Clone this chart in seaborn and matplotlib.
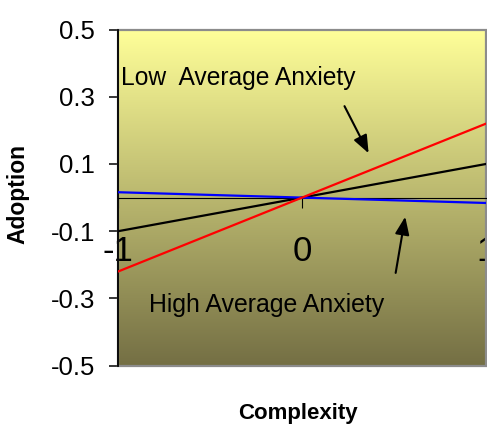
import numpy as np
import pandas as pd
import matplotlib
matplotlib.use("Agg")
import matplotlib.pyplot as plt
import seaborn as sns
from matplotlib.patches import Rectangle
from matplotlib.colors import LinearSegmentedColormap

# Simple-slope lines of Adoption on Complexity at three anxiety levels
complexity = [-1, 0, 1]
low_anxiety = [-0.22, 0.0, 0.22]
mean_anxiety = [-0.10, 0.0, 0.10]
high_anxiety = [0.016, 0.0, -0.016]

x_ticks = [-1, 0, 1]
x_tick_labels = ["-1", "0", "1"]
y_ticks = [0.5, 0.3, 0.1, -0.1, -0.3, -0.5]
y_tick_labels = ["0.5", "0.3", "0.1", "-0.1", "-0.3", "-0.5"]

groups = ["Low Average Anxiety", "Average Anxiety", "High Average Anxiety"]
colors = {"Low Average Anxiety": "#FF0000",
          "Average Anxiety": "#000000",
          "High Average Anxiety": "#0000FF"}

df = pd.DataFrame({
    "Complexity": complexity * 3,
    "Adoption": low_anxiety + mean_anxiety + high_anxiety,
    "group": [g for g in groups for _ in complexity],
})

sns.set_theme(style="ticks")
plt.rcParams["font.family"] = ["Liberation Sans", "DejaVu Sans"]
plt.rcParams["text.color"] = "black"
plt.rcParams["axes.labelcolor"] = "black"
plt.rcParams["xtick.color"] = "black"
plt.rcParams["ytick.color"] = "black"

W, H = 487, 424
fig = plt.figure(figsize=(W / 100, H / 100), dpi=100)
ax = fig.add_axes([118 / W, (H - 365.7) / H, 368 / W, 336.2 / H])

# vertical yellow-to-olive gradient fill of the plot area
cmap = LinearSegmentedColormap.from_list(
    "fill", [(255 / 255, 255 / 255, 153 / 255), (116 / 255, 111 / 255, 68 / 255)])
ax.imshow(np.linspace(0, 1, 256).reshape(-1, 1), extent=[-1, 1, -0.5, 0.5],
          aspect="auto", cmap=cmap, origin="upper", zorder=0, interpolation="bilinear")

sns.lineplot(data=df, x="Complexity", y="Adoption", hue="group",
             palette=colors, hue_order=["Average Anxiety", "High Average Anxiety", "Low Average Anxiety"],
             linewidth=1.6, legend=False, ax=ax, zorder=3)

ax.set_xlim(-1, 1)
ax.set_ylim(-0.5, 0.5)

# x axis crosses at Adoption = 0
ax.spines["bottom"].set_position(("data", 0))
ax.spines["bottom"].set_color("black")
ax.spines["bottom"].set_linewidth(0.8)
ax.spines["bottom"].set_zorder(2.6)
ax.spines["left"].set_color("black")
ax.spines["left"].set_linewidth(1.3)
ax.spines["left"].set_zorder(2.7)
ax.spines["top"].set_visible(False)
ax.spines["right"].set_visible(False)

# grey plot-area border
ax.add_patch(Rectangle((0, 0), 1, 1, transform=ax.transAxes, fill=False,
                       edgecolor="#8C8C8C", linewidth=1.6, clip_on=False, zorder=2.5))

ax.set_xticks(x_ticks)
ax.set_xticklabels(x_tick_labels)
ax.set_yticks(y_ticks)
ax.set_yticklabels(y_tick_labels)
ax.tick_params(axis="x", direction="out", length=7, width=0.8, labelsize=25, pad=20,
               bottom=True)
ax.tick_params(axis="y", direction="out", length=6.5, width=1.1, labelsize=18.5, pad=10,
               left=True)
ax.grid(False)

ax.set_xlabel("Complexity", fontsize=16, fontweight="bold")
ax.set_ylabel("Adoption", fontsize=16.5, fontweight="bold")
ax.xaxis.set_label_coords(0.489, -0.112)
ax.yaxis.set_label_coords(-0.24, 0.511)
ax.xaxis.label.set_va("top")

# labels and arrows for the slopes
ax.text(-0.984, 0.355, "Low  Average Anxiety", fontsize=17.7, ha="left", va="center", zorder=4)
ax.text(-0.833, -0.32, "High Average Anxiety", fontsize=17.9, ha="left", va="center", zorder=4)
arrow = dict(arrowstyle="-|>,head_length=0.9,head_width=0.36", color="black",
             lw=1.5, mutation_scale=12, shrinkA=0, shrinkB=0)
ax.annotate("", xy=(0.362, 0.132), xytext=(0.231, 0.272), arrowprops=arrow, zorder=4)
ax.annotate("", xy=(0.561, -0.057), xytext=(0.509, -0.224), arrowprops=arrow, zorder=4)

fig.savefig("out.png", dpi=100)
